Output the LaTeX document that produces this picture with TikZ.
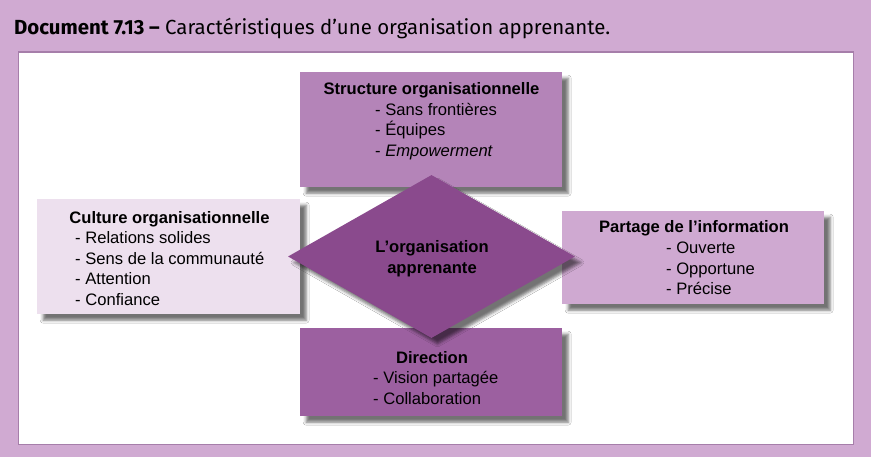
\documentclass[tikz,border=0pt]{standalone}
\usepackage{fontspec}
\setmainfont{Liberation Sans}
\newfontfamily\titlefont{Fira Sans}
\usetikzlibrary{shapes.geometric,shadows.blur}
\definecolor{bgc}{RGB}{208,170,210}
\definecolor{panelborder}{RGB}{166,126,170}
\definecolor{topc}{RGB}{180,132,184}
\definecolor{culc}{RGB}{237,224,238}
\definecolor{parc}{RGB}{207,169,209}
\definecolor{dirc}{RGB}{156,96,160}
\definecolor{diac}{RGB}{138,74,141}
\newcommand\fsz{\fontsize{16.6}{20.5}\selectfont}
\tikzset{
  box/.style={rectangle, inner sep=0, anchor=north west,
    blur shadow={shadow xshift=6pt, shadow yshift=-6pt, shadow blur radius=3pt, shadow opacity=55}},
  hd/.style={inner sep=0, anchor=base, font=\fsz\bfseries},
  it/.style={inner sep=0, anchor=base west, font=\fsz},
}
\begin{document}
\begin{tikzpicture}[x=1pt,y=-1pt]
\useasboundingbox (0,0) rectangle (871,457);
\fill[bgc] (0,0) rectangle (871,457);
\node[inner sep=0, anchor=base west, font=\titlefont\fontsize{20.4}{22}\selectfont] (title) at (14,34.5)
  {\textbf{Document 7.13 –} Caractéristiques d’une organisation apprenante.};
\node[draw=panelborder, line width=1.5pt, fill=white, inner sep=0, anchor=north west,
  minimum width=835pt, minimum height=392pt] (panel) at (17.5,51.5) {};
% boxes
\node[box, fill=topc, minimum width=262pt, minimum height=115pt] (top) at (300,72) {};
\node[box, fill=culc, minimum width=263pt, minimum height=115pt] (cul) at (37,199) {};
\node[box, fill=parc, minimum width=262pt, minimum height=93pt] (par) at (562,211) {};
\node[box, fill=dirc, minimum width=262pt, minimum height=88pt] (dir) at (300,328) {};
% diamond
\node[diamond, fill=diac, inner sep=0, minimum width=287pt, minimum height=163pt,
  blur shadow={shadow xshift=6pt, shadow yshift=-6pt, shadow blur radius=3pt, shadow opacity=55}] (dia) at (431.5,256.5) {};
\node[hd] (d1) at (432,253) {L’organisation};
\node[hd] (d2) at (432,273.5) {apprenante};
% top texts
\node[hd] (th) at (431.5,95) {Structure organisationnelle};
\node[it] (t1) at (375,115.5) {- Sans frontières};
\node[it] (t2) at (375,136) {- Équipes};
\node[it] (t3) at (375,156.5) {- \textit{Empowerment}};
% culture texts
\node[hd] (ch) at (169.5,223.5) {Culture organisationnelle};
\node[it] (c1) at (75,244) {- Relations solides};
\node[it] (c2) at (75,264.5) {- Sens de la communauté};
\node[it] (c3) at (75,285) {- Attention};
\node[it] (c4) at (75,305.5) {- Confiance};
% partage texts
\node[hd] (ph) at (694,233) {Partage de l’information};
\node[it] (p1) at (666,254) {- Ouverte};
\node[it] (p2) at (666,274.5) {- Opportune};
\node[it] (p3) at (666,295) {- Précise};
% direction texts
\node[hd] (dh) at (432,363) {Direction};
\node[it] (r1) at (373,384) {- Vision partagée};
\node[it] (r2) at (373,404.5) {- Collaboration};
\end{tikzpicture}
\end{document}
